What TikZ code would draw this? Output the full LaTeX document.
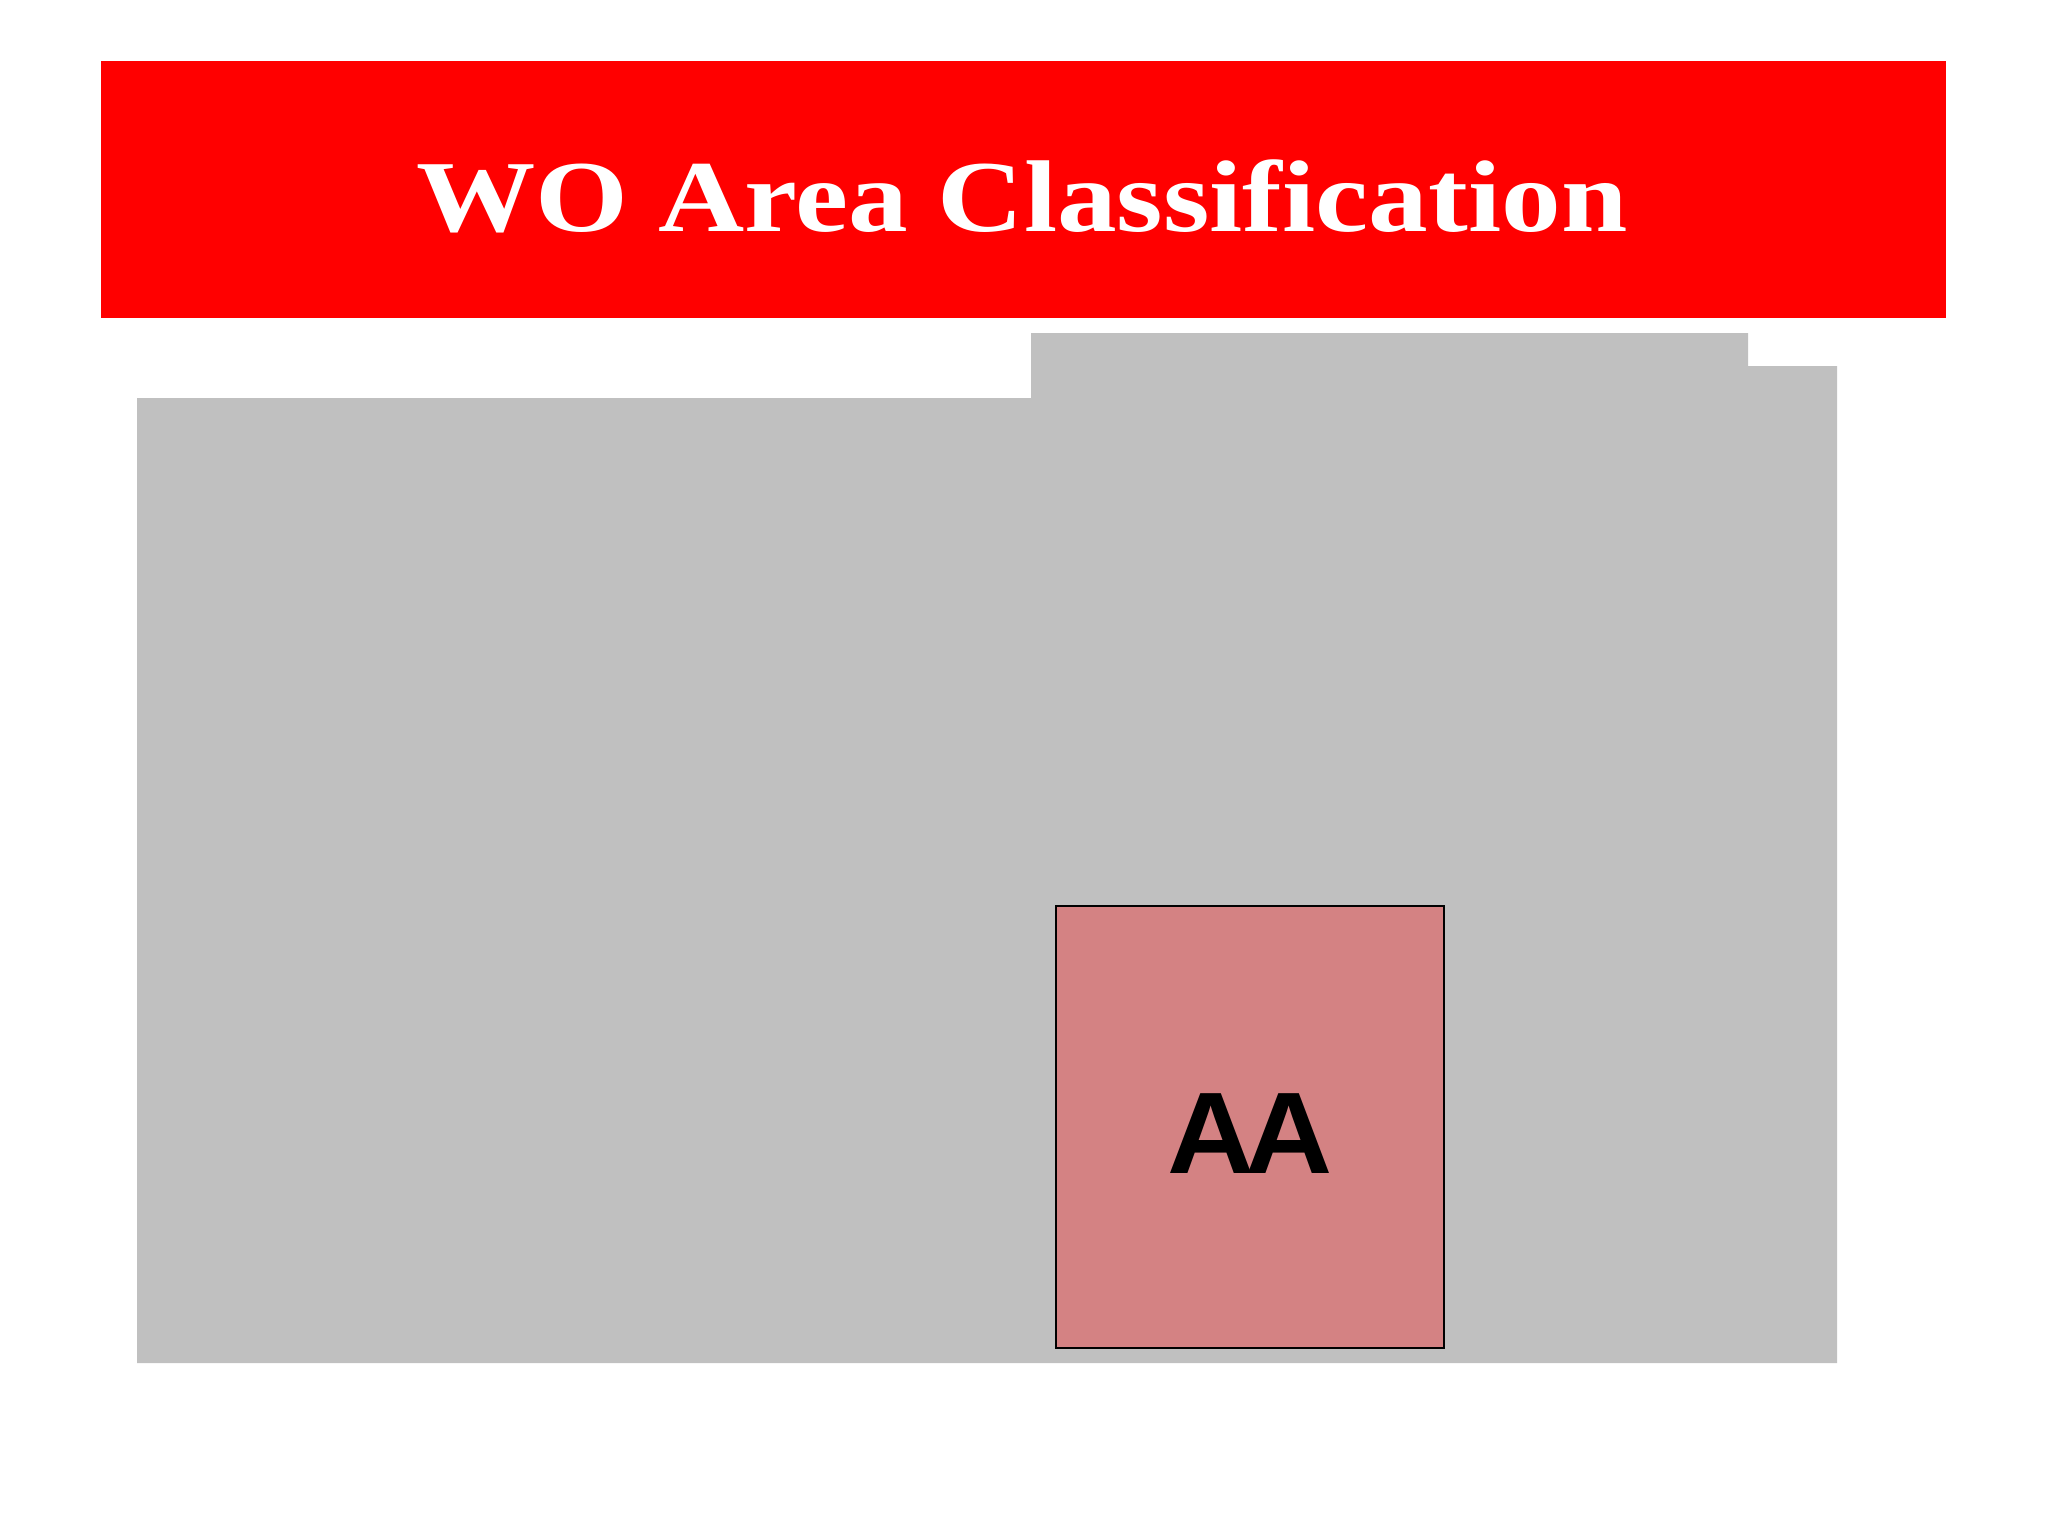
\documentclass[tikz,border=0pt]{standalone}
\usepackage{xcolor}
\usepackage{fontspec}
\setmainfont{Liberation Serif}
\newfontfamily\arialfont{Liberation Sans}
\usepackage{tikz}
\usetikzlibrary{positioning}
\definecolor{titlered}{RGB}{255,0,0}
\definecolor{areagray}{RGB}{192,192,192}
\definecolor{aarose}{RGB}{212,130,131}
\tikzset{
	titlebox/.style={fill=titlered,draw=none,minimum width=18.43cm,minimum height=2.56cm,inner sep=0pt},
	areabox/.style={fill=aarose,draw=black,line width=0.6pt,minimum width=3.88cm,minimum height=4.42cm,inner sep=0pt}
}

\begin{document}
\begin{tikzpicture}[x=0.01cm,y=-0.01cm]
		\useasboundingbox (0,0) rectangle (2048,1536);
		\fill[white] (0,0) rectangle (2048,1536);
		% title bar
		\node[titlebox] (title) at (1023.5,189.5) {};
		\node[text=white,font=\bfseries\fontsize{29pt}{29pt}\selectfont,anchor=base] (titletext) at (1022,231) {\scalebox{1.17}[1]{WO Area Classification}};
		% gray area with stepped top
		\fill[areagray] (137,398) -- (1031,398) -- (1031,333) -- (1748,333) -- (1748,366) -- (1837,366) -- (1837,1363) -- (137,1363) -- cycle;
		% AA room
		\node[areabox] (aa) at (1250,1127) {};
		\node[font=\arialfont\bfseries\fontsize{33pt}{33pt}\selectfont,anchor=base] (aalabel) at (1250,1173) {\scalebox{1.04}[1]{A\kern-0.07em A}};
	\end{tikzpicture}
\end{document}
